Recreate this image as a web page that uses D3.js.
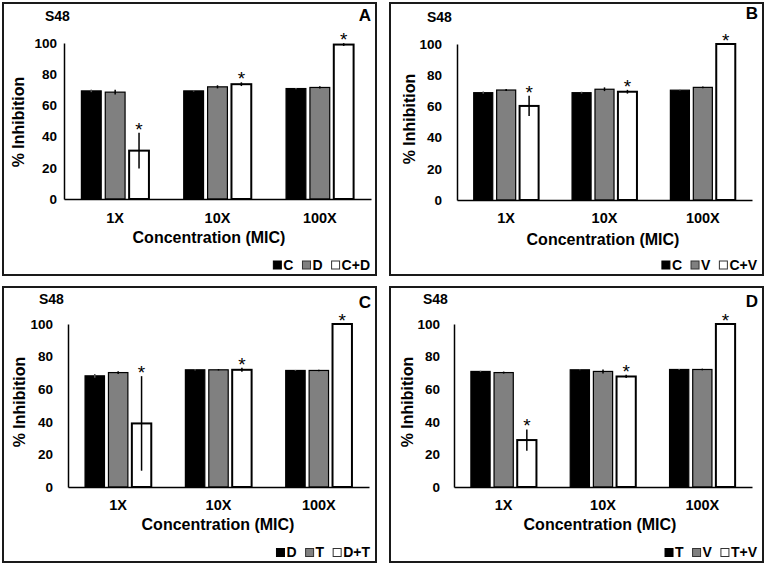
<!DOCTYPE html>
<html>
<head>
<meta charset="utf-8">
<script src="https://cdn.jsdelivr.net/npm/d3@7"></script>
<style>
  body { margin: 0; background: #fff; }
  text { font-family: "Liberation Sans", Arial, sans-serif; font-weight: bold; fill: #000; }
</style>
</head>
<body>
<div id="canvas"></div>
<script>
// shared
const categories = ["1X", "10X", "100X"];
const yTicks = [0, 20, 40, 60, 80, 100];
const strain = "S48";

// panel A
const seriesA = ["C", "D", "C+D"];
const valuesA = [[69.3, 69.3, 70.8], [68.5, 71.9, 71.5], [31, 73.6, 99]];
const errorsA = [[0.8, 0.5, 0.4], [1.5, 1.0, 0.7], [11.5, 1.2, 0.9]];

// panel B
const seriesB = ["C", "V", "C+V"];
const valuesB = [[68.8, 68.8, 70.4], [70.5, 71, 72.2], [60.3, 69.4, 100]];
const errorsB = [[0.7, 0.6, 0.2], [0.6, 1.2, 0.5], [6.5, 1.2, 0.3]];

// panel C
const seriesC = ["D", "T", "D+T"];
const valuesC = [[68.2, 71.9, 71.5], [70.2, 71.9, 71.5], [39, 71.9, 100]];
const errorsC = [[1.2, 0.5, 0.3], [0.8, 0.4, 0.5], [29, 1.2, 0.3]];

// panel D
const seriesD = ["T", "V", "T+V"];
const valuesD = [[70.9, 71.9, 72.1], [70.2, 70.9, 72.1], [28.8, 67.8, 100]];
const errorsD = [[0.4, 0.3, 0.3], [0.6, 1.2, 0.5], [6.5, 1.0, 0.2]];

const fills = ["#000000", "#808080", "#ffffff"];

const width = 765;
const height = 565;

const svg = d3.select("#canvas").append("svg")
  .attr("width", width)
  .attr("height", height);

// layout of each box (page coords)
const panels = [
  { letter: "A", series: seriesA, values: valuesA, errors: errorsA,
    box: [3, 3, 376, 275], px: [64, 371], py: [43, 199], pad: 7,
    ylab: [24, 122], cat: 222.5, title: [209, 243], s48: [45, 21], let: 21, leg: 269.5 },
  { letter: "B", series: seriesB, values: valuesB, errors: errorsB,
    box: [390, 3, 763, 275], px: [457, 752], py: [44, 200], pad: 15,
    ylab: [415, 119], cat: 222.5, title: [603, 245], s48: [427, 21.5], let: 19, leg: 269.5 },
  { letter: "C", series: seriesC, values: valuesC, errors: errorsC,
    box: [3, 287, 376, 562], px: [68, 369], py: [324, 487], pad: 15,
    ylab: [25, 402], cat: 510, title: [218, 530], s48: [39, 304], let: 308, leg: 557 },
  { letter: "D", series: seriesD, values: valuesD, errors: errorsD,
    box: [390, 287, 763, 562], px: [454, 752], py: [324, 487], pad: 14,
    ylab: [413, 402], cat: 510, title: [600, 530], s48: [423, 304], let: 307, leg: 557 }
];

panels.forEach((p) => {
  const g = svg.append("g");

  g.append("rect")
    .attr("x", p.box[0])
    .attr("y", p.box[1])
    .attr("width", p.box[2] - p.box[0])
    .attr("height", p.box[3] - p.box[1])
    .attr("fill", "none")
    .attr("stroke", "#1a1a1a")
    .attr("stroke-width", 2);

  const x = d3.scaleBand()
    .domain(categories)
    .range(p.px)
    .paddingInner(0.34)
    .paddingOuter(0.17);

  const xs = d3.scaleBand()
    .domain(d3.range(p.series.length))
    .range([0, x.bandwidth()])
    .paddingInner(0.17);

  const y = d3.scaleLinear().domain([0, 100]).range([p.py[1], p.py[0]]);

  // y axis
  const ya = g.append("g")
    .attr("transform", `translate(${p.px[0]}, 0)`)
    .call(d3.axisLeft(y).tickValues(yTicks).tickSize(0).tickPadding(p.pad));
  ya.select(".domain").attr("stroke", "#000").attr("stroke-width", 1.5);
  ya.selectAll("text").style("font-size", "13.5px").attr("font-family", null).attr("fill", "#000");

  // bars
  p.series.forEach((s, i) => {
    const row = p.values[i];
    const err = p.errors[i];
    g.selectAll(null)
      .data(categories)
      .enter()
      .append("rect")
      .attr("x", (c) => x(c) + xs(i))
      .attr("y", (c, j) => y(row[j]))
      .attr("width", xs.bandwidth())
      .attr("height", (c, j) => y(0) - y(row[j]))
      .attr("fill", fills[i])
      .attr("stroke", "#000")
      .attr("stroke-width", i === 2 ? 2 : 1.2);

    g.selectAll(null)
      .data(categories)
      .enter()
      .append("line")
      .attr("x1", (c) => x(c) + xs(i) + xs.bandwidth() / 2)
      .attr("x2", (c) => x(c) + xs(i) + xs.bandwidth() / 2)
      .attr("y1", (c, j) => y(row[j] + err[j]))
      .attr("y2", (c, j) => y(row[j] - err[j]))
      .attr("stroke", i === 0 ? "#555" : "#000")
      .attr("stroke-width", 1.5);

    // significance marks on the combination
    if (i === 2) {
      g.selectAll(null)
        .data(categories)
        .enter()
        .append("text")
        .attr("text-anchor", "middle")
        .style("font-size", "19px")
        .style("font-weight", "normal")
        .attr("x", (c) => x(c) + xs(i) + xs.bandwidth() / 2)
        .attr("y", (c, j) => y(row[j] + err[j]) + 3)
        .text("*");
    }
  });

  // x axis
  const xa = g.append("g")
    .attr("transform", `translate(0, ${p.py[1]})`)
    .call(d3.axisBottom(x).tickSize(0).tickSizeOuter(0).tickPadding(0));
  xa.select(".domain").attr("stroke", "#000").attr("stroke-width", 1.5);
  xa.selectAll("text")
    .attr("y", p.cat - p.py[1])
    .attr("dy", null)
    .attr("font-family", null)
    .attr("fill", "#000")
    .style("font-size", "14.5px");

  g.append("text")
    .attr("text-anchor", "middle")
    .style("font-size", "16px")
    .attr("x", p.title[0])
    .attr("y", p.title[1])
    .text("Concentration (MIC)");

  g.append("text")
    .attr("text-anchor", "middle")
    .style("font-size", "16px")
    .attr("transform", `translate(${p.ylab[0]}, ${p.ylab[1]}) rotate(-90)`)
    .text("% Inhibition");

  g.append("text")
    .style("font-size", "14px")
    .attr("x", p.s48[0])
    .attr("y", p.s48[1])
    .text(strain);

  g.append("text")
    .attr("text-anchor", "end")
    .style("font-size", "17px")
    .attr("x", p.box[2] - 5)
    .attr("y", p.let)
    .text(p.letter);

  // legend, right aligned
  const leg = g.append("g");
  let cx = 0;
  p.series.forEach((s, i) => {
    leg.append("rect")
      .attr("x", cx)
      .attr("y", -8.5)
      .attr("width", 8)
      .attr("height", 8)
      .attr("fill", fills[i])
      .attr("stroke", i === 0 ? "#000" : "#333")
      .attr("stroke-width", 1);
    const t = leg.append("text")
      .style("font-size", "14px")
      .attr("x", cx + 10)
      .attr("y", 0)
      .text(s);
    cx += 10 + t.node().getComputedTextLength() + 9;
  });
  cx -= 9;
  leg.attr("transform", `translate(${p.box[2] - 6 - cx}, ${p.leg})`);
});
</script>
</body>
</html>
